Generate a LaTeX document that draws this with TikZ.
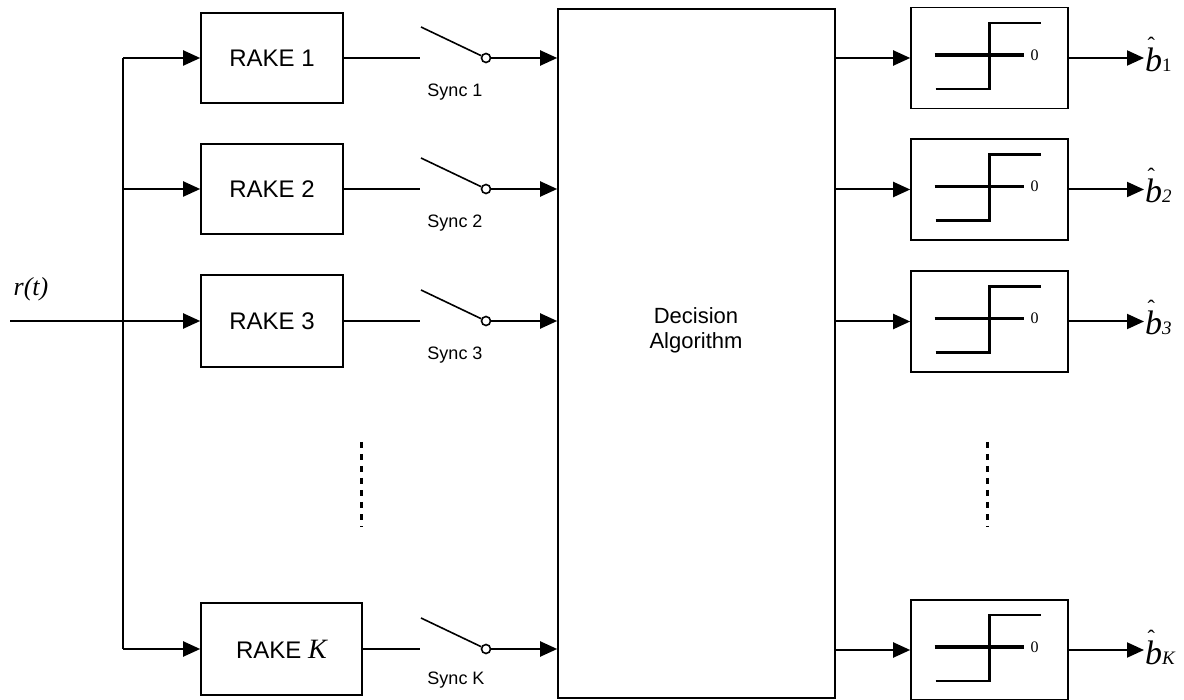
\documentclass[tikz,border=0pt]{standalone}
\usepackage{fontspec}
\setmainfont{Liberation Serif}
\setsansfont{Liberation Sans}
\usetikzlibrary{arrows.meta, positioning}

\begin{document}
\begin{tikzpicture}[
  x=1pt, y=-1pt,
  rake/.style={rectangle, draw, line width=1.6pt, minimum width=142pt, minimum height=90pt,
               inner sep=0pt, font=\fontsize{24}{24}\selectfont\sffamily},
  dec/.style={rectangle, draw, line width=1.6pt, minimum width=277pt, minimum height=689pt, inner sep=0pt},
  lim/.style={rectangle, draw, line width=1.6pt, minimum width=157pt, minimum height=101pt, inner sep=0pt},
  wire/.style={line width=1.6pt},
  arrow/.style={-{Triangle[length=17pt, width=15pt]}, line width=2pt},
  swdot/.style={circle, draw, fill=white, line width=1.6pt, minimum size=9pt, inner sep=0pt},
  synclbl/.style={font=\fontsize{18}{18}\selectfont\sffamily},
  bhat/.style={anchor=base west, inner sep=1pt, font=\fontsize{34}{34}\selectfont\itshape},
  stepln/.style={line width=2.4pt},
  axisln/.style={line width=3.6pt},
  dots/.style={line width=3pt, dash pattern=on 6pt off 6pt}
]
\useasboundingbox (0,0) rectangle (1184,700);

% input and bus
\node[font=\fontsize{26}{26}\selectfont\itshape] (rlbl) at (31,289) {r(t)};
\coordinate (rin) at (10,321);
\coordinate (bus1) at (123,58);
\coordinate (bus2) at (123,189);
\coordinate (busK) at (123,649);

% RAKE receivers
\node[rake] (rake1) at (272,58) {RAKE 1};
\node[rake] (rake2) at (272,189) {RAKE 2};
\node[rake, minimum height=92pt] (rake3) at (272,321) {RAKE 3};
\node[rake, minimum width=161pt, minimum height=92pt] (rakeK) at (281.5,649)
  {RAKE {\fontsize{28}{28}\selectfont\rmfamily\itshape K}};

\draw[wire] (bus1) -- (busK);
\draw[arrow] (rin) -- (rake3);
\draw[arrow] (bus1) -- (rake1);
\draw[arrow] (bus2) -- (rake2);
\draw[arrow] (busK) -- (rakeK);

% decision block
\node[dec] (dec) at (696.5,353.5) {};
\node[font=\fontsize{22}{25}\selectfont\sffamily, align=center] (declbl) at (696,330) {Decision\\Algorithm};

% sync switches
\coordinate (s1) at (420,58);   \coordinate (t1) at (421,27);
\coordinate (s2) at (420,189);  \coordinate (t2) at (421,158);
\coordinate (s3) at (420,321);  \coordinate (t3) at (421,290);
\coordinate (sK) at (420,649);  \coordinate (tK) at (421,618);
\node[swdot] (c1) at (486,58) {};
\node[swdot] (c2) at (486,189) {};
\node[swdot] (c3) at (486,321) {};
\node[swdot] (cK) at (486,649) {};

\draw[wire] (rake1) -- (s1);  \draw[wire] (t1) -- (c1);
\draw[wire] (rake2) -- (s2);  \draw[wire] (t2) -- (c2);
\draw[wire] (rake3) -- (s3);  \draw[wire] (t3) -- (c3);
\draw[wire] (rakeK) -- (sK);  \draw[wire] (tK) -- (cK);

\draw[arrow] (c1) -- (dec.west |- c1);
\draw[arrow] (c2) -- (dec.west |- c2);
\draw[arrow] (c3) -- (dec.west |- c3);
\draw[arrow] (cK) -- (dec.west |- cK);

\node[synclbl] (sync1) at (455,92) {Sync 1};
\node[synclbl] (sync2) at (455,223) {Sync 2};
\node[synclbl] (sync3) at (455,355) {Sync 3};
\node[synclbl] (syncK) at (456,680) {Sync K};

% hard limiters
\node[lim] (lim1) at (989.5,58) {};
\node[lim] (lim2) at (989.5,189.5) {};
\node[lim] (lim3) at (989.5,321.5) {};
\node[lim, minimum height=100pt] (limK) at (989.5,650) {};

\foreach \n in {1,2,3,K} {
  \draw[axisln] ([shift={(-55,-3)}]lim\n.center) -- ([shift={(34,-3)}]lim\n.center);
  \draw[stepln] ([shift={(-54,31)}]lim\n.center) -| ([shift={(0,-35)}]lim\n.center)
    -- ([shift={(51,-35)}]lim\n.center);
  \node[font=\fontsize{16}{16}\selectfont] (zero\n) at ([shift={(45,-3)}]lim\n.center) {0};
}

\draw[arrow] (dec.east |- lim1) -- (lim1);
\draw[arrow] (dec.east |- lim2) -- (lim2);
\draw[arrow] (dec.east |- lim3) -- (lim3);
\draw[arrow] (dec.east |- limK) -- (limK);

% estimated bits
\newcommand{\bhatsym}[1]{\makebox[0pt][l]{\hspace{2.5pt}\smash{\raisebox{19pt}{\fontsize{22}{22}\selectfont\upshape\symbol{"02C6}}}}b{\fontsize{19}{19}\selectfont #1}}
\node[bhat] (b1) at (1144,72) {\bhatsym{\upshape 1}};
\node[bhat] (b2) at (1144,203) {\bhatsym{2}};
\node[bhat] (b3) at (1144,335) {\bhatsym{3}};
\node[bhat] (bK) at (1144,664) {\bhatsym{K}};

\draw[arrow] (lim1) -- (lim1 -| b1.west);
\draw[arrow] (lim2) -- (lim2 -| b2.west);
\draw[arrow] (lim3) -- (lim3 -| b3.west);
\draw[arrow] (limK) -- (limK -| bK.west);

% ellipsis marks
\draw[dots] (361,442) -- (361,527);
\draw[dots] (987,442) -- (987,527);
\end{tikzpicture}
\end{document}
